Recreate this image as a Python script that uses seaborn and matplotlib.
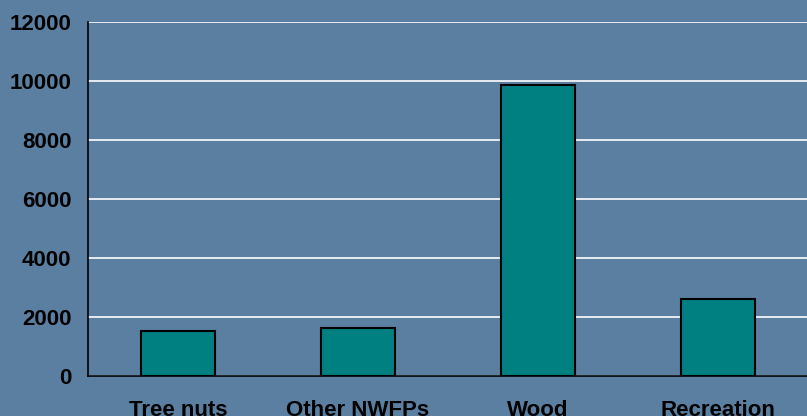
import numpy as np
import pandas as pd
import matplotlib
matplotlib.use("Agg")
import matplotlib.pyplot as plt
import seaborn as sns

categories = ['Tree nuts', 'Other NWFPs', 'Wood', 'Recreation']
values = [1520, 1640, 9870, 2600]
y_ticks = [0, 2000, 4000, 6000, 8000, 10000, 12000]

bg = '#5A7FA0'
bar_color = '#008080'

sns.set_style('white')
plt.rcParams['font.family'] = ['Liberation Sans', 'DejaVu Sans']

df = pd.DataFrame({'cat': categories, 'val': values})

fig = plt.figure(figsize=(8.07, 4.16), dpi=100, facecolor=bg)
ax = fig.add_axes([88 / 807, 1 - 376 / 416, 720 / 807, 354 / 416])
ax.set_facecolor(bg)

sns.barplot(data=df, x='cat', y='val', color=bar_color, width=0.41,
            edgecolor='black', linewidth=1.5, saturation=1, ax=ax, zorder=3)

ax.set_xlim(-0.5, 3.5)
ax.set_ylim(0, 12000)
ax.set_yticks(y_ticks)
ax.set_yticklabels([str(t) for t in y_ticks], fontsize=16, fontweight='bold', color='black')
ax.yaxis.grid(True, color='white', linewidth=1.2, zorder=0)
ax.xaxis.grid(False)

# category labels without ticks, tick marks at category boundaries
ax.set_xticks(range(len(categories)))
ax.set_xticklabels(categories, fontsize=16, fontweight='bold', color='black')
ax.tick_params(axis='x', which='major', length=0, pad=17)
ax.set_xticks(np.arange(-0.5, len(categories) - 0.5, 1), minor=True)
ax.tick_params(axis='x', which='minor', length=7, width=1, color='black', direction='out')
ax.tick_params(axis='y', length=7, width=1, color='black', direction='out', pad=5)

ax.set_xlabel('')
ax.set_ylabel('')
for s in ['top', 'right']:
    ax.spines[s].set_visible(False)
for s in ['left', 'bottom']:
    ax.spines[s].set_color('black')
    ax.spines[s].set_linewidth(1.2)
    ax.spines[s].set_zorder(4)

fig.savefig('out.png', dpi=100, facecolor=bg)
